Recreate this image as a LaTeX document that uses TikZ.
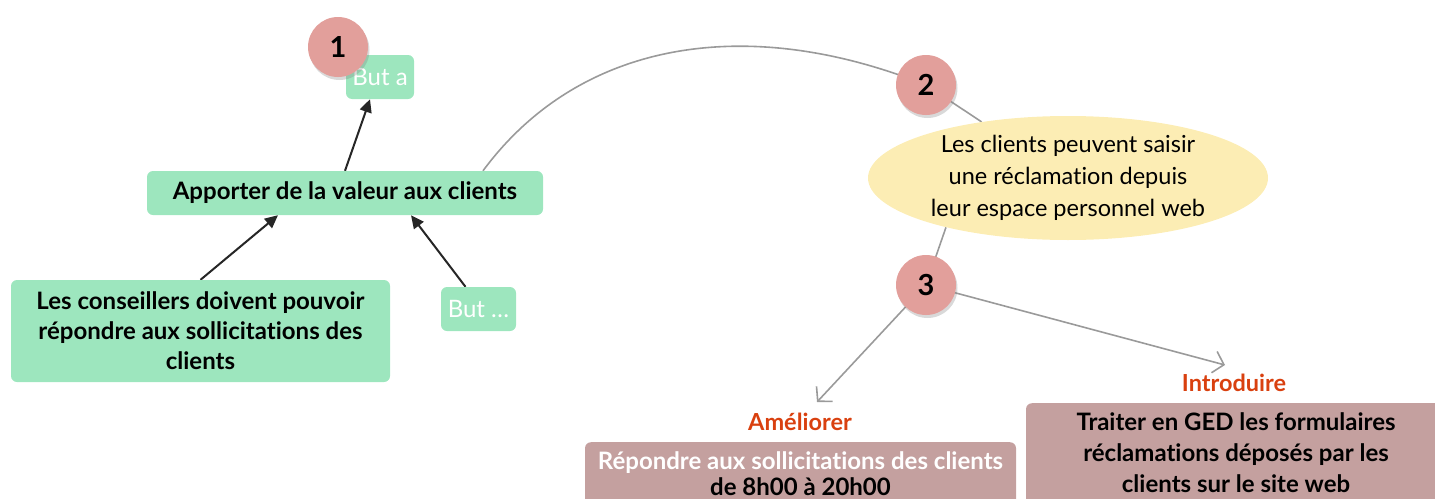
\documentclass[tikz,border=0pt]{standalone}
\usepackage{fontspec}
\setmainfont{Lato}[Ligatures=NoCommon]
\usetikzlibrary{arrows.meta,shapes.geometric,shadows,backgrounds}
\definecolor{mint}{HTML}{9DE6BE}
\definecolor{rose}{HTML}{E29F9B}
\definecolor{sand}{HTML}{FCEDB4}
\definecolor{mauve}{HTML}{C4A09F}
\definecolor{verbred}{HTML}{D9400F}
\definecolor{linegray}{HTML}{9A9A9A}
\definecolor{dark}{HTML}{262626}
\tikzset{
  goal/.style={fill=mint, rounded corners=6pt, inner sep=0pt, align=center},
  num/.style={circle, fill=rose, minimum size=60pt, inner sep=0pt,
    font=\fontsize{29}{29}\selectfont\bfseries,
    drop shadow={opacity=0.3, shadow xshift=1.5pt, shadow yshift=-3pt}},
  link/.style={draw=dark, line width=2pt, -{Triangle[length=13pt,width=12pt]}},
  flow/.style={draw=linegray, line width=1.6pt},
  flowarrow/.style={flow, -{Straight Barb[length=10pt,width=22pt]}},
  verb/.style={text=verbred, inner sep=0pt, font=\fontsize{23.5}{23.5}\selectfont\bfseries},
  action/.style={fill=mauve, rounded corners=6pt, align=center, inner xsep=0pt,
    inner ysep=9pt, text depth=30pt}
}
\begin{document}
\begin{tikzpicture}[x=1pt,y=-1pt]
\useasboundingbox (0,0) rectangle (1435,498);

% goals
\node[goal, minimum width=68pt, minimum height=44pt, text=white,
  font=\fontsize{24}{24}\selectfont] (buta) at (380,77) {But a};
\node[num] (c1) at (338,47) {1};
\node[goal, minimum width=396pt, minimum height=44pt,
  font=\fontsize{24}{24}\selectfont\bfseries] (apporter) at (345,193)
  {Apporter de la valeur aux clients};
\node[goal, minimum width=379pt, minimum height=102pt,
  font=\fontsize{24}{30}\selectfont\bfseries] (cons) at (200.5,331)
  {Les conseillers doivent pouvoir\\répondre aux sollicitations des\\clients};
\node[goal, minimum width=75pt, minimum height=44pt, text=white,
  font=\fontsize{24}{24}\selectfont] (butd) at (478.5,309) {But …};

% requirement
\node[ellipse, fill=sand, minimum width=400pt, minimum height=124pt, inner sep=0pt,
  align=center, font=\fontsize{23.5}{32}\selectfont] (ell) at (1068,178)
  {Les clients peuvent saisir\\une réclamation depuis\\leur espace personnel web};
\node[num] (c2) at (926,85) {2};
\node[num] (c3) at (926,285) {3};

% actions
\node[verb] (amel) at (800,422) {Améliorer};
\node[verb] (intro) at (1234,383) {Introduire};
\node[action, anchor=north, minimum width=431pt,
  font=\fontsize{24}{26}\selectfont\bfseries] (rep) at (800.5,442)
  {\textcolor{white}{Répondre aux sollicitations des clients}\\de 8h00 à 20h00};
\node[action, anchor=north, minimum width=420pt,
  font=\fontsize{24}{31}\selectfont\bfseries] (ged) at (1236,403)
  {Traiter en GED les formulaires\\réclamations déposés par les\\clients sur le site web};

\coordinate (ameltip) at (817,402);
\coordinate (introtip) at (1225,365);

\begin{pgfonlayer}{background}
  \draw[link] (apporter.north) -- ([xshift=-10pt]buta.south);
  \draw[link] (cons.north) -- ([xshift=-67pt]apporter.south);
  \draw[link] ([xshift=-13pt]butd.north) -- ([xshift=66pt]apporter.south);
  \draw[flow] ([xshift=138pt]apporter.north) .. controls (579,41) and (746,13) .. (c2.center) -- (ell.147);
  \draw[flow] (ell.202) -- (c3.center);
  \draw[flowarrow] (c3.center) -- (ameltip);
  \draw[flowarrow] (c3.center) -- (introtip);
\end{pgfonlayer}
\end{tikzpicture}
\end{document}
